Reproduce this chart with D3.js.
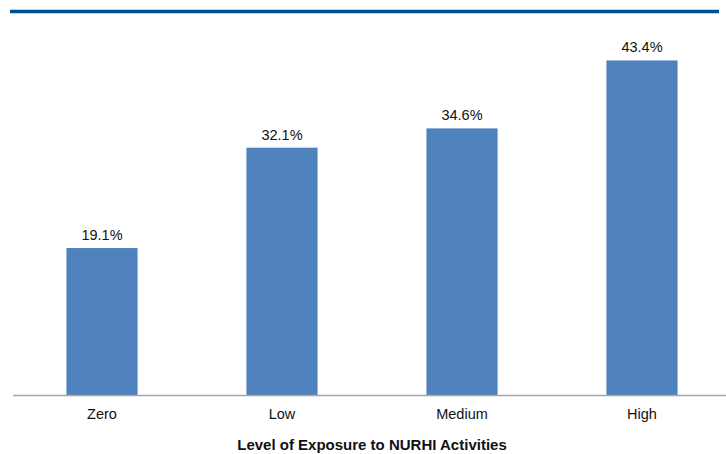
<!DOCTYPE html>
<html>
<head>
<meta charset="utf-8">
<script src="https://cdn.jsdelivr.net/npm/d3@7"></script>
<style>
  html, body { margin: 0; padding: 0; background: #fff; }
  svg { display: block; }
</style>
</head>
<body>
<svg id="chart" width="726" height="454"></svg>
<script>
// Share of respondents by level of exposure to NURHI activities
const categories = ["Zero", "Low", "Medium", "High"];
const values = [19.1, 32.1, 34.6, 43.4];
const valueLabels = ["19.1%", "32.1%", "34.6%", "43.4%"];
const axisTitle = "Level of Exposure to NURHI Activities";

const svg = d3.select("#chart");
const font = "'Liberation Sans', Arial, sans-serif";

const x = d3.scaleBand()
  .domain(categories)
  .range([12, 732])
  .paddingInner(0.605)
  .paddingOuter(0.3025);

const y = d3.scaleLinear()
  .domain([0, 50])
  .range([395.5, 9.5]);

// header rule
svg.append("line")
  .attr("x1", 10).attr("x2", 719)
  .attr("y1", 11.5).attr("y2", 11.5)
  .attr("stroke", "#00508f")
  .attr("stroke-width", 3.5);

// bars
svg.selectAll("rect.bar")
  .data(values)
  .join("rect")
  .attr("class", "bar")
  .attr("x", (d, i) => x(categories[i]))
  .attr("width", x.bandwidth())
  .attr("y", d => y(d))
  .attr("height", d => y(0) - y(d))
  .attr("fill", "#4f81bd");

// value labels
svg.selectAll("text.val")
  .data(values)
  .join("text")
  .attr("class", "val")
  .attr("x", (d, i) => x(categories[i]) + x.bandwidth() / 2)
  .attr("y", d => y(d) - 8)
  .attr("text-anchor", "middle")
  .attr("font-family", font)
  .attr("font-size", 14.5)
  .attr("fill", "#111")
  .text((d, i) => valueLabels[i]);

// category axis
const xAxis = d3.axisBottom(x).tickSize(0).tickPadding(13.5);
const gx = svg.append("g")
  .attr("transform", `translate(0,${y(0)})`)
  .call(xAxis);
gx.select(".domain").remove();
gx.append("line")
  .attr("x1", 13).attr("x2", 726)
  .attr("y1", 0).attr("y2", 0)
  .attr("stroke", "#a6a6a6")
  .attr("stroke-width", 1.5);
gx.selectAll("text")
  .attr("font-family", font)
  .attr("font-size", 14.5)
  .attr("fill", "#111");

// axis title
svg.append("text")
  .attr("x", 372)
  .attr("y", 449.5)
  .attr("text-anchor", "middle")
  .attr("font-family", font)
  .attr("font-size", 15)
  .attr("font-weight", "bold")
  .attr("fill", "#111")
  .text(axisTitle);
</script>
</body>
</html>
